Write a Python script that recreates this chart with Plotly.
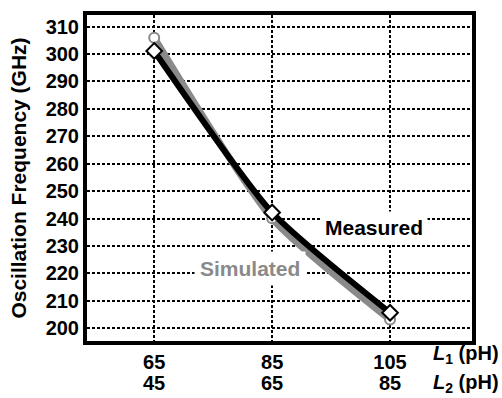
import plotly.graph_objects as go

# ---- data ----
L1 = [65, 85, 105]          # pH
L2 = [45, 65, 85]           # pH
measured = [301.1, 242.2, 205.7]   # GHz
simulated = [305.9, 240.1, 203.2]  # GHz
y_ticks = list(range(200, 311, 10))

FONT = "Liberation Sans, Arial, Helvetica, sans-serif"
GRAY = "#8a8a8a"

fig = go.Figure()
fig.add_trace(go.Scatter(
    x=L1, y=simulated, mode="lines+markers", name="Simulated",
    line=dict(color=GRAY, width=7, shape="spline", smoothing=0.6),
    marker=dict(symbol="circle", size=10, color="white", line=dict(color=GRAY, width=2)),
))
fig.add_trace(go.Scatter(
    x=L1, y=measured, mode="lines+markers", name="Measured",
    line=dict(color="black", width=6, shape="spline", smoothing=0.6),
    marker=dict(symbol="diamond", size=12, color="white", line=dict(color="black", width=2)),
))

axis_common = dict(
    showgrid=True, gridcolor="black", gridwidth=1.5, griddash="3px,2px",
    showline=True, linewidth=4, linecolor="black", mirror=True,
    ticks="", zeroline=False,
    tickfont=dict(family=FONT, size=20, color="black", weight="bold"),
)

fig.update_xaxes(range=[53.6, 118.9], tickvals=L1, ticktext=[str(v) for v in L1], **axis_common)
fig.update_yaxes(range=[195.4, 314.2], tickvals=y_ticks, ticktext=[str(v) for v in y_ticks],
                 title=dict(text="Oscillation Frequency (GHz)",
                            font=dict(family=FONT, size=21, color="black", weight="bold"),
                            standoff=14),
                 **axis_common)

annotations = []
for x, v in zip(L1, L2):
    annotations.append(dict(x=x, xref="x", y=-0.130, yref="paper", text=str(v),
                            showarrow=False, yanchor="middle", xanchor="center",
                            font=dict(family=FONT, size=20, color="black", weight="bold")))
for lab, yy in [("1", -0.042), ("2", -0.130)]:
    annotations.append(dict(x=0.893, xref="paper", y=yy, yref="paper",
                            text=f"<i>L</i><sub>{lab}</sub> (pH)",
                            showarrow=False, yanchor="middle", xanchor="left",
                            font=dict(family=FONT, size=20, color="black", weight="bold")))
annotations.append(dict(x=102.2, y=236.8, xref="x", yref="y", text="Measured", showarrow=False,
                        bgcolor="white", borderpad=4,
                        font=dict(family=FONT, size=21, color="black", weight="bold")))
annotations.append(dict(x=81.2, y=221.7, xref="x", yref="y", text="Simulated", showarrow=False,
                        bgcolor="white", borderpad=5,
                        font=dict(family=FONT, size=21, color=GRAY, weight="bold")))

fig.update_layout(
    width=502, height=398,
    margin=dict(l=87, r=30, t=11, b=57),
    paper_bgcolor="white", plot_bgcolor="white",
    showlegend=False,
    annotations=annotations,
)

fig.write_html("out.html")
